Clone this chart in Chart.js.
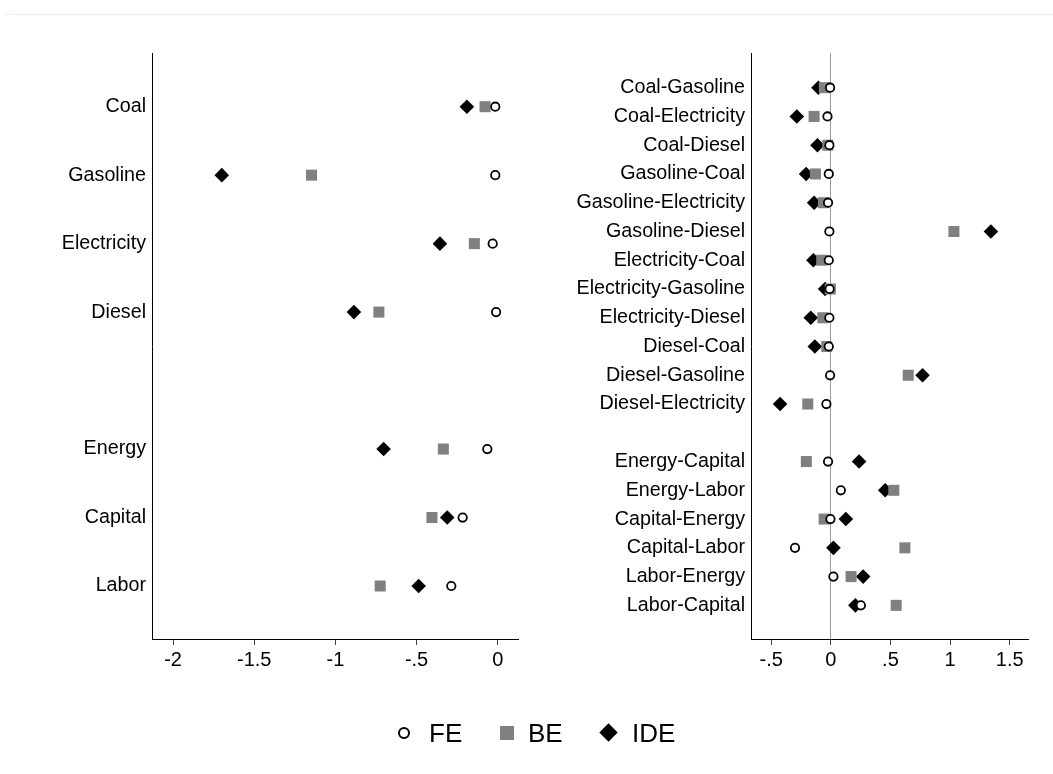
<!DOCTYPE html>
<html lang="en">
<head>
<meta charset="UTF-8">
<title>FE / BE / IDE elasticities</title>
<script src="https://cdn.jsdelivr.net/npm/chart.js"></script>
<style>
  body { margin: 0; background: #fff; font-family: "Liberation Sans", Arial, sans-serif; }
  #wrap { position: relative; width: 1053px; height: 774px; overflow: hidden; background: #fff; }
  .topline { position: absolute; left: 5px; right: 0; top: 14px; height: 1px; background: #e9eef4; }
  #leftChart { position: absolute; left: 0; top: 0; }
  #rightChart { position: absolute; left: 535px; top: 0; }
  .lg { position: absolute; }
  .lg-text { font-size: 26px; line-height: 26px; top: 720px; color: #000; }
  .lg-fe { width: 8px; height: 8px; border: 2px solid #000; border-radius: 50%; left: 398px; top: 727px; background: #fff; }
  .lg-be { width: 14px; height: 14px; background: #808080; left: 500px; top: 726px; }
  .lg-ide { width: 13px; height: 13px; background: #000; left: 602px; top: 726px; transform: rotate(45deg); }
</style>
</head>
<body>
<div id="wrap">
  <div class="topline"></div>
  <canvas id="leftChart" width="535" height="774"></canvas>
  <canvas id="rightChart" width="518" height="774"></canvas>
  <div class="lg lg-fe"></div><div class="lg lg-text" style="left:429px">FE</div>
  <div class="lg lg-be"></div><div class="lg lg-text" style="left:528px">BE</div>
  <div class="lg lg-ide"></div><div class="lg lg-text" style="left:632px">IDE</div>
</div>
<script>
// left panel: own-price elasticities ('' = empty row)
const leftCats = ['Coal', 'Gasoline', 'Electricity', 'Diesel', '', 'Energy', 'Capital', 'Labor'];
const leftFE  = [-0.015, -0.015, -0.031, -0.010, null, -0.064, -0.216, -0.286];
const leftBE  = [-0.078, -1.147, -0.144, -0.732, null, -0.335, -0.405, -0.724];
const leftIDE = [-0.190, -1.700, -0.356, -0.886, null, -0.703, -0.311, -0.487];
const leftTicks = [-2, -1.5, -1, -0.5, 0];

// right panel: cross-price elasticities
const rightCats = ['Coal-Gasoline', 'Coal-Electricity', 'Coal-Diesel', 'Gasoline-Coal',
  'Gasoline-Electricity', 'Gasoline-Diesel', 'Electricity-Coal', 'Electricity-Gasoline',
  'Electricity-Diesel', 'Diesel-Coal', 'Diesel-Gasoline', 'Diesel-Electricity', '',
  'Energy-Capital', 'Energy-Labor', 'Capital-Energy', 'Capital-Labor', 'Labor-Energy', 'Labor-Capital'];
const rightFE  = [-0.006, -0.028, -0.012, -0.017, -0.023, -0.012, -0.017, -0.010, -0.012, -0.017, -0.006, -0.037, null,
  -0.023, 0.084, -0.003, -0.300, 0.022, 0.252];
const rightBE  = [-0.054, -0.140, -0.025, -0.129, -0.062, 1.032, -0.076, -0.004, -0.067, -0.034, 0.649, -0.193, null,
  -0.205, 0.528, -0.056, 0.621, 0.170, 0.548];
const rightIDE = [-0.104, -0.285, -0.112, -0.207, -0.140, 1.342, -0.146, -0.048, -0.168, -0.134, 0.769, -0.425, null,
  0.237, 0.456, 0.126, 0.022, 0.271, 0.206];
const rightTicks = [-0.5, 0, 0.5, 1, 1.5];

const labelFont = { family: '"Liberation Sans", Arial, sans-serif', size: 19.7 };
const tickFont = { family: '"Liberation Sans", Arial, sans-serif', size: 20 };

function pts(vals) {
  const out = [];
  vals.forEach((v, i) => { if (v !== null) out.push({ x: v, y: i + 1 }); });
  return out;
}

// strip the leading zero like Stata does: -0.5 -> -.5
function fmt(v) {
  return String(v).replace(/^(-?)0\./, '$1.');
}

function panel(id, cats, fe, be, ide, xTicks, xMin, xMax, yMin, yMax, yWidth, padRight, zeroLine) {
  new Chart(document.getElementById(id), {
    type: 'scatter',
    data: {
      datasets: [
        { label: 'FE', data: pts(fe), pointStyle: 'circle', pointRadius: 4.2, pointBorderWidth: 1.8,
          backgroundColor: '#fff', borderColor: '#000' },
        { label: 'BE', data: pts(be), pointStyle: 'rect', pointRadius: 7.8, pointBorderWidth: 0,
          backgroundColor: '#808080', borderColor: '#808080' },
        { label: 'IDE', data: pts(ide), pointStyle: 'rectRot', pointRadius: 7.3, pointBorderWidth: 0,
          backgroundColor: '#000', borderColor: '#000' }
      ]
    },
    options: {
      responsive: false,
      animation: false,
      layout: { padding: { top: 53, left: 0, right: padRight, bottom: 75 } },
      plugins: { legend: { display: false }, tooltip: { enabled: false } },
      scales: {
        x: {
          type: 'linear',
          min: xMin,
          max: xMax,
          afterBuildTicks: s => { s.ticks = xTicks.map(v => ({ value: v })); },
          afterFit: s => { s.height = 60; },
          border: { display: true, color: '#000', width: 1 },
          grid: {
            color: c => (zeroLine && c.tick && c.tick.value === 0) ? '#9a9a9a' : 'rgba(0,0,0,0)',
            tickColor: '#444',
            tickLength: 6,
            lineWidth: 1
          },
          ticks: { color: '#000', font: tickFont, padding: 3, maxRotation: 0, callback: v => fmt(v) }
        },
        y: {
          type: 'linear',
          reverse: true,
          min: yMin,
          max: yMax,
          afterBuildTicks: s => {
            s.ticks = cats.map((c, i) => ({ value: i + 1 })).filter((t, i) => cats[i] !== '');
          },
          afterFit: s => { s.width = yWidth; },
          border: { display: true, color: '#000', width: 1 },
          grid: { display: false, drawTicks: false },
          ticks: { color: '#000', font: labelFont, padding: 6, callback: v => cats[v - 1] }
        }
      }
    }
  });
}

panel('leftChart', leftCats, leftFE, leftBE, leftIDE, leftTicks, -2.13, 0.125, 0.216, 8.774, 152, 17, false);
panel('rightChart', rightCats, rightFE, rightBE, rightIDE, rightTicks, -0.669, 1.653, -0.206, 20.17, 216, 25, true);
</script>
</body>
</html>
